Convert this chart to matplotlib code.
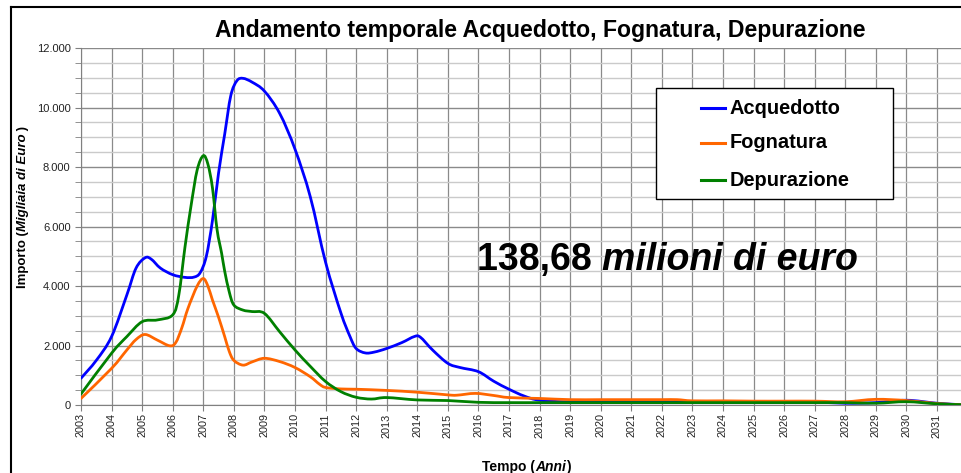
import matplotlib
matplotlib.use("Agg")
import numpy as np
import matplotlib.pyplot as plt
from matplotlib.lines import Line2D
from matplotlib.patches import PathPatch, Rectangle
from matplotlib.path import Path
from matplotlib.ticker import FuncFormatter, MultipleLocator

plt.rcParams['font.family'] = ['Liberation Sans', 'DejaVu Sans']

# ---- data ----
acq_x = [2003, 2003.5, 2004, 2004.5, 2004.8, 2005.1, 2005.3, 2005.6, 2006, 2006.4, 2006.7, 2006.9,
         2007.1, 2007.3, 2007.5, 2007.7, 2007.9, 2008.1, 2008.3, 2008.6, 2009, 2009.5, 2010, 2010.5,
         2011, 2011.5, 2011.8, 2012, 2012.3, 2012.6, 2013, 2013.5, 2013.9, 2014.1, 2014.5, 2015,
         2015.4, 2016, 2016.5, 2017, 2017.5, 2018, 2019, 2020, 2021, 2022, 2023, 2024, 2025, 2026,
         2027, 2028, 2029, 2030, 2031, 2031.8]
acq_y = [900, 1500, 2300, 3700, 4600, 4950, 4900, 4600, 4380, 4290, 4300, 4450,
         5000, 6200, 7800, 9100, 10400, 10900, 10980, 10850, 10550, 9800, 8600, 7000,
         4800, 3100, 2300, 1900, 1750, 1780, 1900, 2100, 2300, 2280, 1850, 1400,
         1260, 1120, 800, 530, 300, 160, 100, 100, 100, 100, 100, 100, 100, 100,
         100, 60, 80, 160, 60, 10]

fog_x = [2003, 2004, 2004.5, 2004.8, 2005.1, 2005.5, 2005.9, 2006.1, 2006.3, 2006.5, 2006.8, 2007,
         2007.15, 2007.3, 2007.5, 2007.7, 2007.85, 2008, 2008.3, 2008.6, 2009, 2009.5, 2010, 2010.5,
         2010.8, 2011, 2011.5, 2012, 2013, 2014, 2015, 2015.3, 2015.9, 2016.5, 2017, 2018, 2019,
         2020, 2021, 2022, 2022.5, 2023, 2024, 2025, 2026, 2027, 2028, 2029, 2030, 2031, 2031.8]
fog_y = [220, 1230, 1850, 2200, 2370, 2180, 1990, 2100, 2600, 3250, 4000, 4250,
         4000, 3530, 2950, 2300, 1800, 1500, 1340, 1450, 1570, 1460, 1260, 950,
         700, 590, 540, 530, 490, 430, 340, 330, 390, 320, 250, 220, 180,
         180, 180, 180, 180, 140, 140, 130, 130, 130, 110, 190, 150, 50, 10]

dep_x = [2003, 2004, 2004.5, 2005, 2005.5, 2006, 2006.2, 2006.4, 2006.6, 2006.8, 2007, 2007.15,
         2007.3, 2007.45, 2007.6, 2007.7, 2007.85, 2008, 2008.3, 2008.6, 2009, 2009.5, 2010, 2010.5,
         2011, 2011.5, 2012, 2012.5, 2013, 2014, 2015, 2016, 2017, 2018, 2019, 2020, 2021, 2022,
         2023, 2024, 2025, 2026, 2027, 2028, 2029, 2030, 2031, 2031.8]
dep_y = [370, 1740, 2300, 2800, 2860, 3030, 3700, 5300, 6700, 7900, 8380, 8100,
         7300, 5900, 5100, 4500, 3800, 3360, 3190, 3140, 3080, 2460, 1850, 1300,
         790, 450, 260, 200, 250, 170, 150, 90, 80, 80, 80, 80, 80, 80,
         80, 80, 80, 80, 80, 80, 60, 110, 40, 10]

series_names = ["Acquedotto", "Fognatura", "Depurazione"]
series_colors = ["#0000FF", "#FF6600", "#008000"]
year_ticks = list(range(2003, 2032))

title_text = "Andamento temporale Acquedotto, Fognatura, Depurazione"
total_num = "138,68 "
total_words = "milioni di euro"


def smooth_path(xs, ys):
    """Excel-style smoothed line: cubic Bezier segments through the data points."""
    p = np.column_stack([xs, ys]).astype(float)
    verts = [p[0]]
    codes = [Path.MOVETO]
    n = len(p)
    for i in range(n - 1):
        p0 = p[i - 1] if i > 0 else p[i]
        p1, p2 = p[i], p[i + 1]
        p3 = p[i + 2] if i + 2 < n else p[i + 1]
        c1 = p1 + (p2 - p0) / 6.0
        c2 = p2 - (p3 - p1) / 6.0
        verts += [c1, c2, p2]
        codes += [Path.CURVE4] * 3
    return Path(verts, codes)


# ---- figure ----
W, H = 961, 473
fig = plt.figure(figsize=(W / 100, H / 100), dpi=100)
fig.patch.set_facecolor("white")

left_px, right_px, top_px, bottom_px = 81, 961, 48, 405
ax = fig.add_axes([left_px / W, 1 - bottom_px / H, (right_px - left_px) / W, (bottom_px - top_px) / H])

for xs, ys, col in zip([acq_x, fog_x, dep_x], [acq_y, fog_y, dep_y], series_colors):
    ax.add_patch(PathPatch(smooth_path(xs, ys), facecolor="none", edgecolor=col, lw=2.0,
                           joinstyle="round", capstyle="round", zorder=3, clip_on=True))

ax.set_xlim(2003, 2003 + (right_px - left_px) / 30.57)
ax.set_ylim(0, 12000)
ax.set_xticks(year_ticks)
ax.set_xticklabels([str(y) for y in year_ticks], rotation=90, fontsize=7.8)
ax.yaxis.set_major_locator(MultipleLocator(2000))
ax.yaxis.set_minor_locator(MultipleLocator(500))
ax.yaxis.set_major_formatter(FuncFormatter(lambda v, p: f"{int(v):,}".replace(",", ".")))
ax.tick_params(axis="y", which="major", labelsize=8, length=4, color="#808080", labelcolor="#222222")
ax.tick_params(axis="y", which="minor", length=4, color="#808080")
ax.tick_params(axis="x", length=4, color="#808080", pad=2, labelcolor="#222222")

ax.grid(True, axis="x", color="#8a8a8a", lw=0.9, zorder=0)
ax.grid(True, axis="y", which="major", color="#8a8a8a", lw=1.0, zorder=0)
ax.grid(True, axis="y", which="minor", color="#cacaca", lw=1.0, zorder=0)
ax.set_axisbelow(True)
for s in ["top", "right"]:
    ax.spines[s].set_visible(False)
for s in ["left", "bottom"]:
    ax.spines[s].set_color("#808080")

# y label: "Importo (" + italic part + ")"
t = fig.text(23 / W, 1 - 288 / H, "Importo (", fontsize=9.5, fontweight="bold", rotation=90,
             ha="center", va="bottom")
t = ax.annotate("Migliaia di Euro", xy=(0.5, 1), xycoords=t, fontsize=9.5, fontweight="bold",
                style="italic", rotation=90, ha="center", va="bottom")
ax.annotate(" )", xy=(0.5, 1), xycoords=t, fontsize=9.5, fontweight="bold", rotation=90,
            ha="center", va="bottom")

# x label
t = fig.text(482 / W, 1 - 471 / H, "Tempo (", fontsize=10, fontweight="bold", ha="left", va="baseline")
t = ax.annotate("Anni", xy=(1, 0), xycoords=t, fontsize=10, fontweight="bold", style="italic",
                ha="left", va="bottom")
ax.annotate(")", xy=(1, 0), xycoords=t, fontsize=10, fontweight="bold", ha="left", va="bottom")

# title
fig.text(540 / W, 1 - 30 / H, title_text, fontsize=16.6, fontweight="bold", ha="center", va="center")

# big total annotation
t = fig.text(477 / W, 1 - 270 / H, total_num, fontsize=27, fontweight="bold", ha="left",
             va="baseline", zorder=5)
ax.annotate(total_words, xy=(1, 0), xycoords=t, fontsize=27, fontweight="bold", style="italic",
            ha="left", va="bottom", zorder=5)

# legend (drawn as a box with handle lines and labels)
box_l, box_t, box_r, box_b = 656, 88, 893, 199
fig.add_artist(Rectangle((box_l / W, 1 - box_b / H), (box_r - box_l) / W, (box_b - box_t) / H,
                         transform=fig.transFigure, facecolor="white", edgecolor="black", lw=1.0,
                         zorder=6))
row_y = [108, 143, 180]
for name, col, yy in zip(series_names, series_colors, row_y):
    fig.add_artist(Line2D([701 / W, 725 / W], [1 - yy / H, 1 - yy / H], transform=fig.transFigure,
                          color=col, lw=2.2, zorder=7))
    fig.text(730 / W, 1 - yy / H, name, fontsize=14.4, fontweight="bold", ha="left", va="center",
             zorder=7)

# outer chart border
fig.add_artist(Line2D([11 / W, 11 / W], [0, 1 - 7 / H], transform=fig.transFigure, color="black", lw=1.5))
fig.add_artist(Line2D([11 / W, 1], [1 - 7 / H, 1 - 7 / H], transform=fig.transFigure, color="black", lw=1.5))

fig.savefig("out.png", dpi=100)
